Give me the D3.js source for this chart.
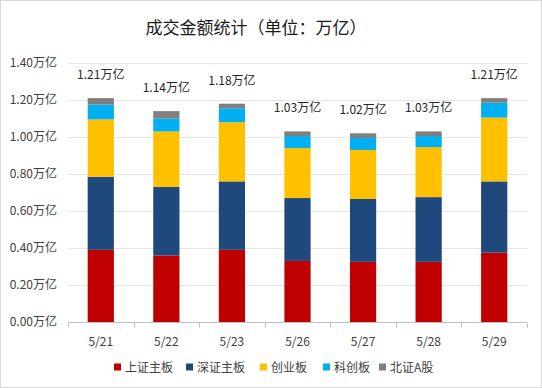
<!DOCTYPE html>
<html>
<head>
<meta charset="utf-8">
<script src="https://cdn.jsdelivr.net/npm/d3@7/dist/d3.min.js"></script>
<style>
  html, body { margin: 0; padding: 0; background: #fff; }
  svg { display: block; font-family: "Noto Sans CJK SC", "Noto Sans", sans-serif; }
</style>
</head>
<body>
<div id="chart"></div>
<script>
const categories = ['5/21', '5/22', '5/23', '5/26', '5/27', '5/28', '5/29'];
const seriesNames = ['上证主板', '深证主板', '创业板', '科创板', '北证A股'];
const shMain = [0.39, 0.36, 0.39, 0.33, 0.325, 0.325, 0.375];
const szMain = [0.395, 0.37, 0.37, 0.34, 0.34, 0.35, 0.385];
const chiNext = [0.31, 0.30, 0.32, 0.27, 0.265, 0.27, 0.345];
const star = [0.08, 0.07, 0.075, 0.065, 0.065, 0.06, 0.08];
const bse = [0.035, 0.04, 0.025, 0.025, 0.025, 0.025, 0.025];
const totals = [1.21, 1.14, 1.18, 1.03, 1.02, 1.03, 1.21];
const yTicks = [0, 0.2, 0.4, 0.6, 0.8, 1.0, 1.2, 1.4];

const colors = ['#C00000', '#1F497D', '#FFC000', '#00B0F0', '#7F7F7F'];

const width = 542;
const height = 388;
const margin = { top: 63, right: 15, bottom: 66, left: 68 };

const rows = categories.map((c, i) => ({
  cat: c,
  [seriesNames[0]]: shMain[i],
  [seriesNames[1]]: szMain[i],
  [seriesNames[2]]: chiNext[i],
  [seriesNames[3]]: star[i],
  [seriesNames[4]]: bse[i],
  total: totals[i],
}));

const svg = d3.select('#chart').append('svg')
  .attr('width', width)
  .attr('height', height);

// outer border like the spreadsheet chart area
svg.append('rect')
  .attr('x', 0.5).attr('y', 0.5)
  .attr('width', width - 1).attr('height', height - 1)
  .attr('fill', '#fff')
  .attr('stroke', '#d9d9d9');

svg.append('text')
  .attr('x', 256)
  .attr('y', 34)
  .attr('text-anchor', 'middle')
  .attr('font-size', 17)
  .attr('fill', '#1a1a1a')
  .text('成交金额统计（单位：万亿）');

const x = d3.scaleBand()
  .domain(categories)
  .range([margin.left, width - margin.right])
  .paddingInner(0.6)
  .paddingOuter(0.3);

const y = d3.scaleLinear()
  .domain([0, 1.4])
  .range([height - margin.bottom, margin.top]);

// gridlines
svg.append('g')
  .selectAll('line')
  .data(yTicks.slice(1))
  .join('line')
  .attr('x1', margin.left)
  .attr('x2', width - margin.right)
  .attr('y1', (d) => Math.round(y(d)) + 0.5)
  .attr('y2', (d) => Math.round(y(d)) + 0.5)
  .attr('stroke', '#e6e6e6');

// y axis labels
const axisY = svg.append('g')
  .attr('transform', `translate(${margin.left},0)`)
  .call(d3.axisLeft(y).tickValues(yTicks).tickSize(0).tickPadding(11)
    .tickFormat((d) => `${d.toFixed(2)}万亿`));
axisY.select('.domain').remove();
axisY.selectAll('text')
  .attr('font-size', 12)
  .attr('fill', '#404040')
  .attr('font-family', '"Noto Sans CJK SC", sans-serif');

// stacked bars
const stack = d3.stack().keys(seriesNames);
const layers = stack(rows);

svg.append('g')
  .selectAll('g')
  .data(layers)
  .join('g')
  .attr('fill', (d, i) => colors[i])
  .selectAll('rect')
  .data((d) => d)
  .join('rect')
  .attr('x', (d) => x(d.data.cat))
  .attr('width', x.bandwidth())
  .attr('y', (d) => y(d[1]))
  .attr('height', (d) => y(d[0]) - y(d[1]));

// x axis with ticks between categories
const baseY = Math.round(y(0)) + 0.5;
const bounds = d3.range(categories.length + 1).map((i) => margin.left + i * ((width - margin.right - margin.left) / categories.length));
const xAxis = svg.append('g');
xAxis.append('line')
  .attr('x1', margin.left).attr('x2', width - margin.right)
  .attr('y1', baseY).attr('y2', baseY)
  .attr('stroke', '#bfbfbf');
xAxis.selectAll('line.tick')
  .data(bounds)
  .join('line')
  .attr('class', 'tick')
  .attr('x1', (d) => Math.round(d) + 0.5).attr('x2', (d) => Math.round(d) + 0.5)
  .attr('y1', baseY).attr('y2', baseY + 5)
  .attr('stroke', '#bfbfbf');
xAxis.selectAll('text')
  .data(categories)
  .join('text')
  .attr('x', (d) => x(d) + x.bandwidth() / 2)
  .attr('y', baseY + 23)
  .attr('text-anchor', 'middle')
  .attr('font-size', 12)
  .attr('fill', '#404040')
  .text((d) => d);

// total labels
svg.append('g')
  .selectAll('text')
  .data(rows)
  .join('text')
  .attr('x', (d) => x(d.cat) + x.bandwidth() / 2)
  .attr('y', (d) => y(d.total) - 19)
  .attr('text-anchor', 'middle')
  .attr('font-size', 12)
  .attr('fill', '#262626')
  .text((d) => `${d.total.toFixed(2)}万亿`);

// legend
const legendX = [114, 186, 260, 323, 379];
const legend = svg.append('g');
const items = legend.selectAll('g')
  .data(seriesNames)
  .join('g')
  .attr('transform', (d, i) => `translate(${legendX[i]},367)`);
items.append('rect')
  .attr('x', 0).attr('y', -3.5)
  .attr('width', 7).attr('height', 7)
  .attr('fill', (d, i) => colors[i]);
items.append('text')
  .attr('x', 11)
  .attr('y', 4.5)
  .attr('font-size', 12)
  .attr('fill', '#404040')
  .text((d) => d);
</script>
</body>
</html>
